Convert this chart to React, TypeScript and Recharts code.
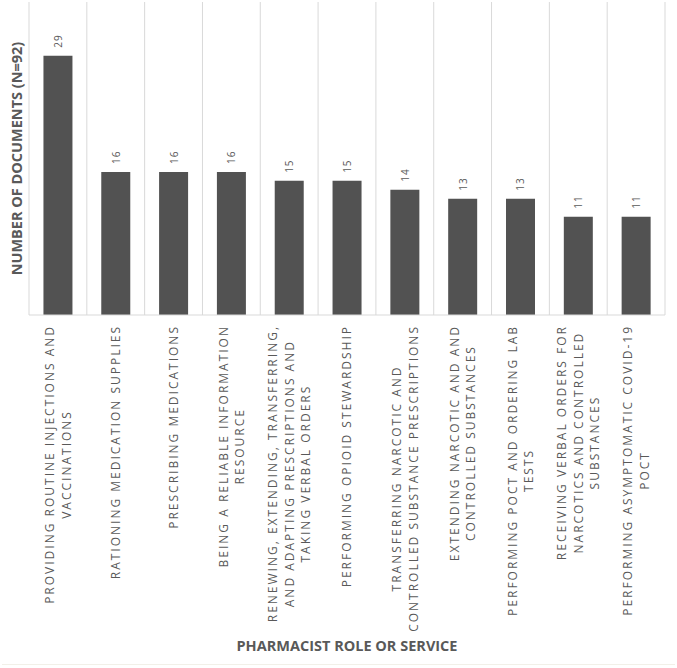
import React from "react";
import { BarChart, Bar, XAxis, YAxis, CartesianGrid, LabelList } from "recharts";

// tick labels, already broken into lines the way the source wraps them
const roles = [
  "PROVIDING ROUTINE INJECTIONS AND\nVACCINATIONS",
  "RATIONING MEDICATION SUPPLIES",
  "PRESCRIBING MEDICATIONS",
  "BEING A RELIABLE INFORMATION\nRESOURCE",
  "RENEWING, EXTENDING, TRANSFERRING,\nAND ADAPTING PRESCRIPTIONS AND\nTAKING VERBAL ORDERS",
  "PERFORMING OPIOID STEWARDSHIP",
  "TRANSFERRING NARCOTIC AND\nCONTROLLED SUBSTANCE PRESCRIPTIONS",
  "EXTENDING NARCOTIC AND AND\nCONTROLLED SUBSTANCES",
  "PERFORMING POCT AND ORDERING LAB\nTESTS",
  "RECEIVING VERBAL ORDERS FOR\nNARCOTICS AND CONTROLLED\nSUBSTANCES",
  "PERFORMING ASYMPTOMATIC COVID-19\nPOCT",
];
const documents = [29, 16, 16, 16, 15, 15, 14, 13, 13, 11, 11];

const data = roles.map((role, i) => ({ role, documents: documents[i] }));

const GRAY = "#595959";
const FONT = "'Open Sans', sans-serif";
const TICK_SIZE = 12;
const TICK_SPACING = 2;
const LINE_GAP = 16.5;

let ctx: CanvasRenderingContext2D | null = null;
function textWidth(s: string) {
  if (!ctx) ctx = document.createElement("canvas").getContext("2d");
  if (!ctx) return s.length * 8.8;
  ctx.font = `${TICK_SIZE}px 'Open Sans'`;
  return ctx.measureText(s).width + TICK_SPACING * s.length;
}

function RoleTick({ x, y, payload }: any) {
  const lines = String(payload.value).split("\n");
  const maxW = Math.max(...lines.map(textWidth));
  const cy = y + maxW / 2;
  return (
    <g>
      {lines.map((line, i) => {
        const lx = x + (i - (lines.length - 1) / 2) * LINE_GAP;
        return (
          <text
            key={i}
            x={lx}
            y={cy}
            transform={`rotate(-90, ${lx}, ${cy})`}
            textAnchor="middle"
            dominantBaseline="central"
            fill={GRAY}
            style={{ fontSize: TICK_SIZE, letterSpacing: `${TICK_SPACING}px`, fontFamily: FONT }}
          >
            {line}
          </text>
        );
      })}
    </g>
  );
}

function ValueLabel({ x, y, width, value }: any) {
  const cx = x + width / 2;
  const ty = y - 8;
  return (
    <text
      x={cx}
      y={ty}
      transform={`rotate(-90, ${cx}, ${ty})`}
      textAnchor="start"
      dominantBaseline="central"
      fill={GRAY}
      style={{ fontSize: 10, letterSpacing: "1px", fontFamily: FONT }}
    >
      {value}
    </text>
  );
}

export default function App() {
  return (
    <div style={{ position: "absolute", left: 0, top: 0, width: 677, height: 668, background: "#fff" }}>
      <BarChart
        width={677}
        height={668}
        data={data}
        margin={{ top: 2, right: 12, bottom: 0, left: 0 }}
        barCategoryGap="25%"
      >
        <CartesianGrid
          horizontal={false}
          stroke="#d9d9d9"
          verticalCoordinatesGenerator={({ offset }: any) =>
            roles.map((_, i) => offset.left + (i * offset.width) / roles.length).concat(offset.left + offset.width)
          }
        />
        <XAxis
          dataKey="role"
          interval={0}
          height={353}
          tickLine={false}
          tickSize={0}
          tickMargin={10}
          axisLine={{ stroke: "#d9d9d9" }}
          tick={<RoleTick />}
          label={{
            value: "PHARMACIST ROLE OR SERVICE",
            position: "insideBottom",
            offset: 17,
            fill: GRAY,
            fontSize: 14.5,
            fontWeight: 700,
            fontFamily: FONT,
          }}
        />
        <YAxis
          width={29}
          domain={[0, 35]}
          tick={false}
          tickLine={false}
          axisLine={false}
          label={{
            value: "NUMBER OF DOCUMENTS (N=92)",
            angle: -90,
            position: "insideLeft",
            offset: 17,
            style: { textAnchor: "middle" },
            fill: GRAY,
            fontSize: 14.5,
            fontWeight: 700,
            fontFamily: FONT,
          }}
        />
        <Bar dataKey="documents" fill="#525252" isAnimationActive={false}>
          <LabelList dataKey="documents" content={<ValueLabel />} />
        </Bar>
      </BarChart>
      <div style={{ position: "absolute", left: 2, top: 664, width: 673, height: 1, background: "#f2f0e8" }} />
    </div>
  );
}
